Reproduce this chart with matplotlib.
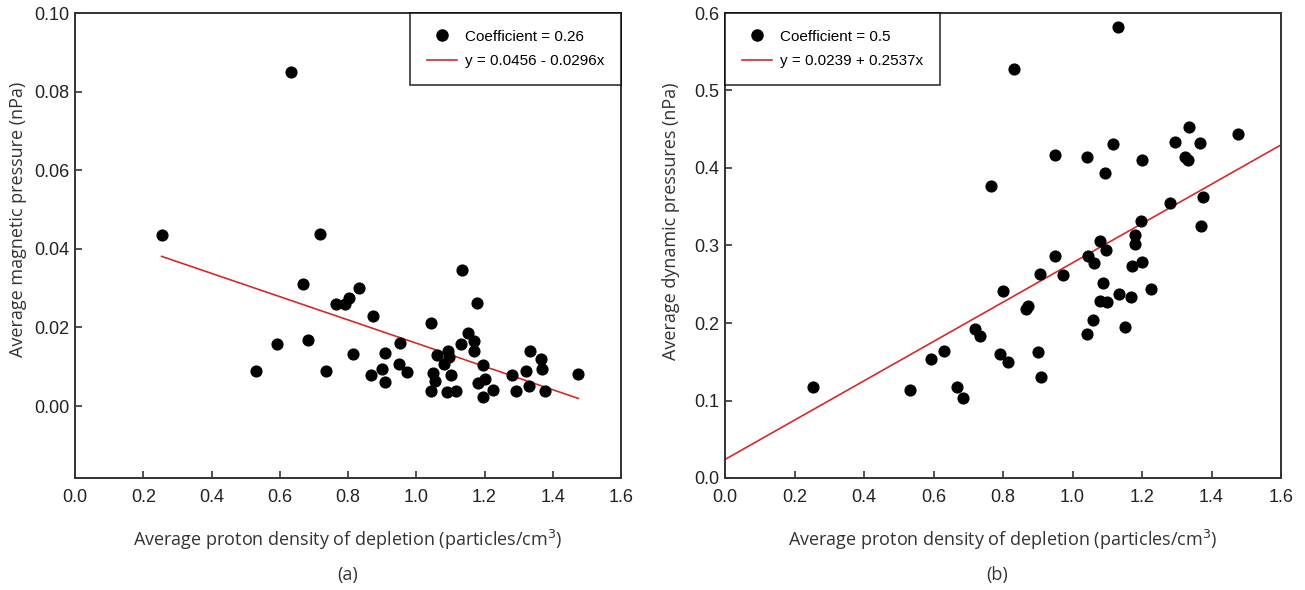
import matplotlib
matplotlib.use("Agg")
import matplotlib.pyplot as plt
from matplotlib.ticker import FormatStrFormatter, MultipleLocator
from matplotlib.lines import Line2D
import numpy as np

# ---- data: panel (a) ----
xa = [0.254, 0.632, 0.530, 0.593, 0.668, 0.684, 0.719, 0.736, 0.765, 0.792,
      0.803, 0.833, 0.814, 0.874, 0.866, 0.900, 0.908, 0.907, 0.951, 0.949,
      0.973, 1.042, 1.048, 1.044, 1.056, 1.062, 1.080, 1.094, 1.095, 1.101,
      1.089, 1.116, 1.135, 1.130, 1.151, 1.168, 1.170, 1.179, 1.181, 1.197,
      1.200, 1.195, 1.225, 1.281, 1.293, 1.322, 1.332, 1.330, 1.366, 1.368,
      1.376, 1.475]
ya = [0.0435, 0.0851, 0.0090, 0.0159, 0.0311, 0.0169, 0.0438, 0.0089, 0.0259, 0.0260,
      0.0276, 0.0300, 0.0132, 0.0230, 0.0078, 0.0094, 0.0135, 0.0061, 0.0160, 0.0106,
      0.0086, 0.0212, 0.0084, 0.0039, 0.0063, 0.0131, 0.0106, 0.0139, 0.0126, 0.0078,
      0.0037, 0.0039, 0.0345, 0.0157, 0.0186, 0.0165, 0.0140, 0.0262, 0.0058, 0.0105,
      0.0070, 0.0022, 0.0041, 0.0080, 0.0039, 0.0089, 0.0139, 0.0051, 0.0121, 0.0095,
      0.0039, 0.0081]
fit_a = [0.0456, -0.0296]   # intercept, slope
label_a = ["Coefficient = 0.26", "y = 0.0456 - 0.0296x"]

# ---- data: panel (b) ----
xb = [0.253, 0.531, 0.592, 0.631, 0.669, 0.685, 0.719, 0.735, 0.765, 0.791,
      0.801, 0.813, 0.831, 0.866, 0.873, 0.901, 0.906, 0.908, 0.951, 0.950,
      0.973, 1.042, 1.043, 1.046, 1.059, 1.062, 1.079, 1.094, 1.095, 1.089,
      1.078, 1.100, 1.116, 1.132, 1.134, 1.150, 1.169, 1.171, 1.180, 1.181,
      1.197, 1.199, 1.200, 1.226, 1.280, 1.295, 1.325, 1.331, 1.334, 1.368,
      1.369, 1.376, 1.476]
yb = [0.1168, 0.1134, 0.1532, 0.1638, 0.1173, 0.1028, 0.1924, 0.1832, 0.3771, 0.1604,
      0.2414, 0.1498, 0.5274, 0.2176, 0.2215, 0.1624, 0.2632, 0.1309, 0.4169, 0.2865,
      0.2618, 0.1857, 0.4144, 0.2870, 0.2036, 0.2768, 0.3054, 0.3931, 0.2942, 0.2516,
      0.2283, 0.2268, 0.4304, 0.5822, 0.2380, 0.1953, 0.2336, 0.2739, 0.3131, 0.3025,
      0.3316, 0.4101, 0.2792, 0.2433, 0.3543, 0.4333, 0.4140, 0.4106, 0.4523, 0.4319,
      0.3248, 0.3631, 0.4440]
fit_b = [0.0239, 0.2537]
label_b = ["Coefficient = 0.5", "y = 0.0239 + 0.2537x"]

xlabel = "Average proton density of depletion (particles/cm$^3$)"
ylabel_a = "Average magnetic pressure (nPa)"
ylabel_b = "Average dynamic pressures (nPa)"

TICKFONT = "Liberation Sans"
LABELFONT = "Open Sans"
RED = "#d42a2a"
SPINE = "#333333"

fig = plt.figure(figsize=(13.05, 5.9), dpi=100)
ax1 = fig.add_axes([75/1305, 1-478/590, (621-75)/1305, (478-13)/590])
ax2 = fig.add_axes([725/1305, 1-478/590, (1281-725)/1305, (478-13)/590])


def style(ax):
    for s in ax.spines.values():
        s.set_color(SPINE)
        s.set_linewidth(1.4)
    ax.tick_params(direction="in", length=5, width=1.2, color=SPINE,
                   labelsize=13, pad=4)
    ax.tick_params(axis="x", pad=8)
    for lab in ax.get_xticklabels() + ax.get_yticklabels():
        lab.set_fontfamily(TICKFONT)
        lab.set_color("#222222")


# panel a
ax1.scatter(xa, ya, s=60, color="black", zorder=3)
xl = np.array([min(xa), max(xa)])
ax1.plot(xl, fit_a[0] + fit_a[1]*xl, color=RED, lw=1.2, zorder=2)
ax1.set_xlim(0, 1.6)
ax1.set_ylim(-0.0183, 0.10)
ax1.xaxis.set_major_locator(MultipleLocator(0.2))
ax1.set_yticks([0, 0.02, 0.04, 0.06, 0.08, 0.10])
ax1.xaxis.set_major_formatter(FormatStrFormatter("%.1f"))
ax1.yaxis.set_major_formatter(FormatStrFormatter("%.2f"))
style(ax1)
ax1.set_xlabel(xlabel, family=LABELFONT, fontsize=13, color="#333333", labelpad=16)
ax1.set_ylabel(ylabel_a, family=LABELFONT, fontsize=13, color="#333333")
ax1.yaxis.set_label_coords(-0.088, 0.557)

# panel b
ax2.scatter(xb, yb, s=60, color="black", zorder=3)
xl2 = np.array([0.0, 1.6])
ax2.plot(xl2, fit_b[0] + fit_b[1]*xl2, color=RED, lw=1.2, zorder=2)
ax2.set_xlim(0, 1.6)
ax2.set_ylim(0, 0.6)
ax2.xaxis.set_major_locator(MultipleLocator(0.2))
ax2.yaxis.set_major_locator(MultipleLocator(0.1))
ax2.xaxis.set_major_formatter(FormatStrFormatter("%.1f"))
ax2.yaxis.set_major_formatter(FormatStrFormatter("%.1f"))
style(ax2)
ax2.set_xlabel(xlabel, family=LABELFONT, fontsize=13, color="#333333", labelpad=16)
ax2.set_ylabel(ylabel_b, family=LABELFONT, fontsize=13, color="#333333")
ax2.yaxis.set_label_coords(-0.081, 0.553)


def legend(ax, labels, loc):
    handles = [Line2D([], [], ls="none", marker="o", color="black", markersize=8),
               Line2D([], [], color=RED, lw=1.2)]
    leg = ax.legend(handles, labels, loc=loc, borderaxespad=0, frameon=True,
                    fancybox=False, handlelength=2.0, handletextpad=0.5,
                    borderpad=1.1, labelspacing=0.7,
                    prop={"family": TICKFONT, "size": 11})
    leg.get_frame().set_edgecolor("black")
    leg.get_frame().set_linewidth(1.2)
    return leg


legend(ax1, label_a, "upper right")
legend(ax2, label_b, "upper left")

fig.text(348/1305, 1-575/590, "(a)", ha="center", va="center",
         family=LABELFONT, fontsize=13, color="#333333")
fig.text(997/1305, 1-575/590, "(b)", ha="center", va="center",
         family=LABELFONT, fontsize=13, color="#333333")

fig.savefig("out.png", dpi=100)
